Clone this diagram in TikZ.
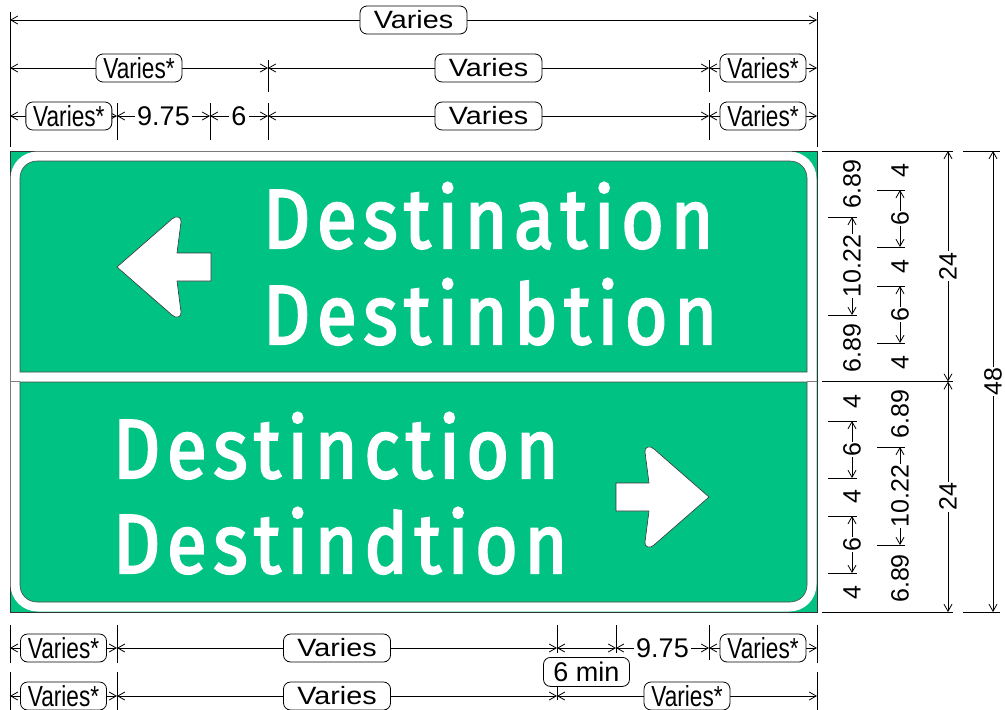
\documentclass[tikz,border=0pt]{standalone}
\usepackage{fontspec}
\usepackage{tikz}
\usetikzlibrary{arrows.meta,positioning}
\setmainfont{Liberation Sans}
\newfontfamily\numfam{Liberation Sans}
\newfontfamily\widefam[FakeStretch=1.15]{Liberation Sans}
\newfontfamily\narrowfam[FakeStretch=0.78]{Liberation Sans}
\newfontfamily\signfam[LetterSpace=8,FakeStretch=0.87,FakeBold=2.5]{Fira Sans}
\definecolor{signgreen}{RGB}{0,194,131}

\begin{document}
\begin{tikzpicture}[x=1pt,y=-1pt,
  dim/.style={line width=0.8pt,{Straight Barb[length=7pt,width=8pt]}-{Straight Barb[length=7pt,width=8pt]}},
  ext/.style={line width=0.8pt},
  vbox/.style={draw,line width=0.8pt,rounded corners=7pt,fill=white,inner sep=0pt,minimum width=107pt,minimum height=28pt,font={\widefam\fontsize{25pt}{25pt}\selectfont}},
  sbox/.style={vbox,minimum width=86pt,font={\narrowfam\fontsize{29pt}{29pt}\selectfont}},
  mbox/.style={vbox,minimum width=86pt,minimum height=29pt,font={\numfam\fontsize{27pt}{27pt}\selectfont}},
  num/.style={fill=white,inner sep=2pt,font={\numfam\fontsize{27pt}{27pt}\selectfont}},
  vnum/.style={num,rotate=90,inner sep=1pt,font={\numfam\fontsize{25pt}{25pt}\selectfont}},
  signtext/.style={anchor=base west,inner sep=0pt,text=white,font={\signfam\fontsize{84pt}{84pt}\selectfont}},
  arrowfill/.style={fill=white,draw=black!80,line width=0.6pt,line join=round}]
\useasboundingbox (0,0) rectangle (1005,710);

% sign panels
\filldraw[fill=signgreen,draw=black!80,line width=0.8pt] (10,151) rectangle (817,612);
\fill[white,rounded corners=27pt] (10.5,151.5) rectangle (816.5,611.5);
\filldraw[fill=signgreen,draw=black!70,line width=0.6pt] (20,372) -- (20,178) .. controls (20,168.6) and (27.4,161) .. (37,161) -- (790,161) .. controls (799.6,161) and (807,168.6) .. (807,178) -- (807,372) -- cycle;
\filldraw[fill=signgreen,draw=black!70,line width=0.6pt] (20,382) -- (807,382) -- (807,585) .. controls (807,594.4) and (799.6,602) .. (790,602) -- (37,602) .. controls (27.4,602) and (20,594.4) .. (20,585) -- cycle;
\draw[gray,line width=0.5pt] (10,381.5) -- (20,381.5) (807,381.5) -- (817,381.5);

% arrows
\filldraw[arrowfill] (117,267) -- (172,219) .. controls (176,215) and (182,217) .. (181,222) -- (177,253) -- (211,253) -- (211,281) -- (177,281) -- (181,312) .. controls (182,317) and (176,319) .. (172,315) -- cycle;
\filldraw[arrowfill] (709,497) -- (654,545) .. controls (650,549) and (644,547) .. (645,542) -- (649,511) -- (616,511) -- (616,483) -- (649,483) -- (645,452) .. controls (644,447) and (650,445) .. (654,449) -- cycle;

% legends
\node[signtext] (d1) at (263,248) {Destination};
\node[signtext] (d2) at (263,344) {Destinbtion};
\node[signtext] (d3) at (113,478) {Destinction};
\node[signtext] (d4) at (113,573) {Destindtion};

% top dimensions
\foreach \n/\x in {a/10,b/117,c/210,d/268,e/709,f/817}{
  \coordinate (t1\n) at (\x,20);
  \coordinate (t2\n) at (\x,68);
  \coordinate (t3\n) at (\x,116);
}
\draw[ext] ([yshift=8pt]t1a) -- ([yshift=-31pt]t3a);
\draw[ext] ([yshift=8pt]t1f) -- ([yshift=-31pt]t3f);
\draw[ext] ([yshift=8pt]t2d) -- ([yshift=-24pt]t2d);
\draw[ext] ([yshift=8pt]t2e) -- ([yshift=-24pt]t2e);
\foreach \n in {b,c,d,e} \draw[ext] ([yshift=13pt]t3\n) -- ([yshift=-24pt]t3\n);
\draw[dim] (t1a) -- (t1f) node[vbox,midway] (va) {Varies};
\draw[dim] (t2a) -- (t2d) node[sbox,midway] (vb) {Varies*};
\draw[dim] (t2d) -- (t2e) node[vbox,midway] (vc) {Varies};
\draw[dim] (t2e) -- (t2f) node[sbox,midway] (vd) {Varies*};
\draw[dim] (t3a) -- (t3b) node[sbox,pos=.55] (ve) {Varies*};
\draw[dim] (t3b) -- (t3c) node[num,midway] (na) {9.75};
\draw[dim] (t3c) -- (t3d) node[num,midway] (nb) {6};
\draw[dim] (t3d) -- (t3e) node[vbox,midway] (vf) {Varies};
\draw[dim] (t3e) -- (t3f) node[sbox,midway] (vg) {Varies*};

% bottom dimensions
\foreach \n/\x in {a/10,b/117,c/557,d/616,e/709,f/817}{
  \coordinate (b1\n) at (\x,648);
  \coordinate (b2\n) at (\x,696);
}
\foreach \n in {a,b,f}{
  \draw[ext] ([yshift=23pt]b1\n) -- ([yshift=-15pt]b1\n);
  \draw[ext] ([yshift=24pt]b2\n) -- ([yshift=-14pt]b2\n);
}
\draw[ext] ([yshift=23pt]b1c) -- ([yshift=-5pt]b1c);
\draw[ext] ([yshift=23pt]b1d) -- ([yshift=-5pt]b1d);
\draw[ext] ([yshift=23pt]b1e) -- ([yshift=-12pt]b1e);
\draw[ext] ([yshift=10pt]b2c) -- ([yshift=-4pt]b2c);
\draw[dim] (b1a) -- (b1b) node[sbox,midway] (vh) {Varies*};
\draw[dim] (b1b) -- (b1c) node[vbox,midway] (vi) {Varies};
\draw[dim] (b1c) -- (b1d) node[mbox,midway,below=9pt] (ma) {6 min};
\draw[dim] (b1d) -- (b1e) node[num,midway] (nc) {9.75};
\draw[dim] (b1e) -- (b1f) node[sbox,midway] (vj) {Varies*};
\draw[dim] (b2a) -- (b2b) node[sbox,midway] (vk) {Varies*};
\draw[dim] (b2b) -- (b2c) node[vbox,midway] (vl) {Varies};
\draw[dim] (b2c) -- (b2f) node[sbox,midway] (vm) {Varies*};

% right dimensions
\foreach \n/\y in {0/151,1/217,2/315,3/381.5,4/421,5/478,6/516,7/573,8/612} \coordinate (u\n) at (852,\y);
\foreach \n/\y in {0/151,1/190,2/247,3/286,4/343,5/381.5,6/447,7/545,8/612} \coordinate (w\n) at (900,\y);
\foreach \n/\y in {0/151,1/381.5,2/612} \coordinate (g\n) at (948,\y);
\coordinate (h0) at (993,151);
\coordinate (h1) at (993,612);
\foreach \n in {0,1,2} \draw[ext] ([xshift=-126pt]g\n) -- ([xshift=5pt]g\n);
\foreach \n in {0,1} \draw[ext] ([xshift=-30pt]h\n) -- ([xshift=7pt]h\n);
\foreach \n in {1,2,4,5,6,7} \draw[ext] ([xshift=-24pt]u\n) -- ([xshift=5pt]u\n);
\foreach \n in {1,2,3,4,6,7} \draw[ext] ([xshift=-23pt]w\n) -- ([xshift=5pt]w\n);
\draw[dim] (u1) -- (u2) node[vnum,midway] (ra) {10.22};
\draw[dim] (u4) -- (u5) node[vnum,midway] (rb) {6};
\draw[dim] (u6) -- (u7) node[vnum,midway] (rc) {6};
\path (u0) -- (u1) node[vnum,midway] (rd) {6.89};
\path (u2) -- (u3) node[vnum,midway] (re) {6.89};
\foreach \i/\j in {3/4,5/6,7/8} \path (u\i) -- (u\j) node[vnum,midway] (ru\i) {4};
\draw[dim] (w1) -- (w2) node[vnum,midway] (rk) {6};
\draw[dim] (w3) -- (w4) node[vnum,midway] (rl) {6};
\draw[dim] (w6) -- (w7) node[vnum,midway] (rm) {10.22};
\path (w5) -- (w6) node[vnum,midway] (rn) {6.89};
\path (w7) -- (w8) node[vnum,midway] (ro) {6.89};
\foreach \i/\j in {0/1,2/3,4/5} \path (w\i) -- (w\j) node[vnum,midway] (rw\i) {4};
\draw[dim] (g0) -- (g1) node[vnum,midway] (rf) {24};
\draw[dim] (g1) -- (g2) node[vnum,midway] (rg) {24};
\draw[dim] (h0) -- (h1) node[vnum,midway] (rh) {48};
\end{tikzpicture}
\end{document}
